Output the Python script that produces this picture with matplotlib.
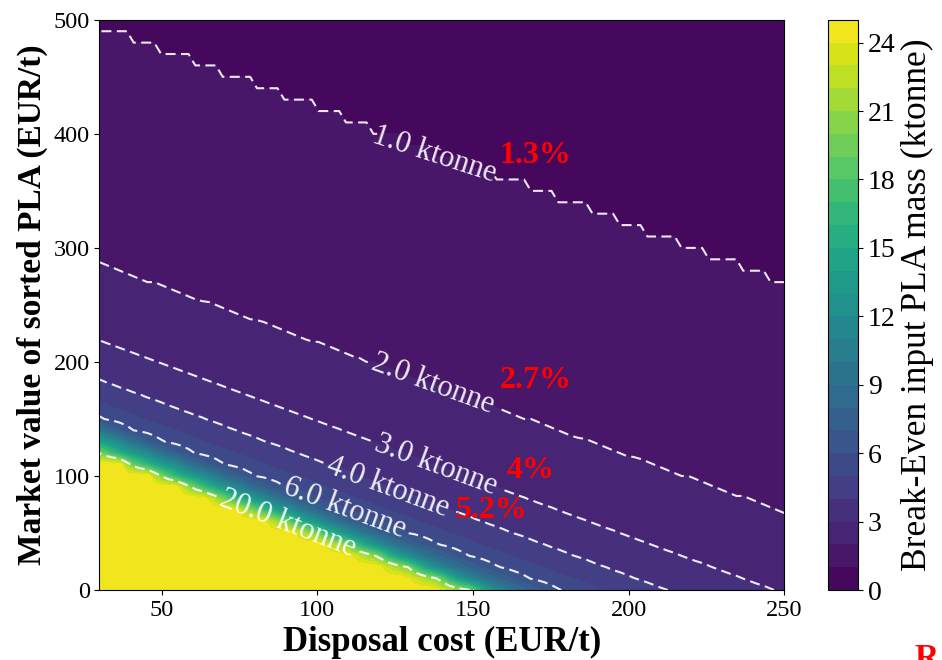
import numpy as np
import matplotlib
matplotlib.use("Agg")
import matplotlib.pyplot as plt

plt.rcParams['font.family'] = ['Liberation Serif', 'DejaVu Serif']
plt.rcParams['mathtext.fontset'] = 'stix'

# ---- data ----
# Each break-even mass (ktonne) iso-line, given by two points (x0,y0)-(x1,y1)
# in (disposal cost EUR/t, market value EUR/t)
anchor_mass = [1.0, 2.0, 3.0, 4.0, 6.0, 12.0, 20.0, 25.0]
anchor_x0 = [30, 30, 30, 30, 30, 30, 30, 30]
anchor_y0 = [490, 285, 218, 184, 151, 136, 120, 117]
anchor_x1 = [250, 250, 246, 212, 178, 157, 149, 137]
anchor_y1 = [265, 67, 0, 0, 0, 0, 0, 0]

line_levels = [1.0, 2.0, 3.0, 4.0, 6.0, 20.0]
label_pos = [(138, 382), (137, 180), (138, 110), (123, 92), (108, 68), (89, 50)]

share_text = ["1.3%", "2.7%", "4%", "5.2%"]
share_x = [170, 170, 168.5, 156]
share_y = [381, 184, 105, 70]

cbar_ticks = [0, 3, 6, 9, 12, 15, 18, 21, 24]
x_ticks = [50, 100, 150, 200, 250]
y_ticks = [0, 100, 200, 300, 400, 500]

# ---- build field on the sampling grid ----
xs = np.linspace(30, 250, 101)
ys = np.arange(0, 501, 10)
X, Y = np.meshgrid(xs, ys)
am = np.array(anchor_mass)
inv = 1.0 / am
Z = np.zeros_like(X, dtype=float)
for j, xv in enumerate(xs):
    yk = np.array([y0 + (y1 - y0) * (xv - x0) / (x1 - x0)
                   for x0, y0, x1, y1 in zip(anchor_x0, anchor_y0, anchor_x1, anchor_y1)])
    col = np.interp(ys, yk[::-1], inv[::-1])
    top = ys > yk[0]
    slope = (inv[0] - inv[1]) / (yk[0] - yk[1])
    col[top] = inv[0] + (ys[top] - yk[0]) * slope
    M = 1.0 / col
    M = np.ceil(M * 40 - 1e-7) / 40.0
    Z[:, j] = np.clip(M, 0, 25)

fig = plt.figure(figsize=(9.42, 6.6), dpi=100)
ax = fig.add_axes([0.1056, 0.106, 0.727, 0.864])
cax = fig.add_axes([0.879, 0.106, 0.032, 0.864])

cf = ax.contourf(X, Y, Z, levels=np.arange(0, 26, 1), cmap='viridis')
cs = ax.contour(X, Y, Z, levels=line_levels, colors='white',
                linestyles=[(0, (4.8, 2.6))], linewidths=1.5, alpha=0.9)
ax.clabel(cs, fmt='%.1f ktonne', fontsize=22, inline=True, manual=label_pos,
          colors='white')

for t, xv, yv in zip(share_text, share_x, share_y):
    ax.text(xv, yv, t, color='red', fontsize=23, fontweight='bold',
            ha='center', va='center')

ax.set_xlim(30, 250)
ax.set_ylim(0, 500)
ax.set_xticks(x_ticks)
ax.set_yticks(y_ticks)
ax.tick_params(labelsize=17.5)
ax.set_xlabel('Disposal cost (EUR/t)', fontsize=25, fontweight='bold', labelpad=4)
ax.set_ylabel('Market value of sorted PLA (EUR/t)', fontsize=24, fontweight='bold')

cb = fig.colorbar(cf, cax=cax, ticks=cbar_ticks)
cb.ax.tick_params(labelsize=20)
cb.set_label('Break-Even input PLA mass (ktonne)', fontsize=25.5, labelpad=4)

fig.text(0.971, 0.026, 'R', color='red', fontsize=24, fontweight='bold',
         ha='left', va='top')

fig.savefig('out.png', dpi=100)
